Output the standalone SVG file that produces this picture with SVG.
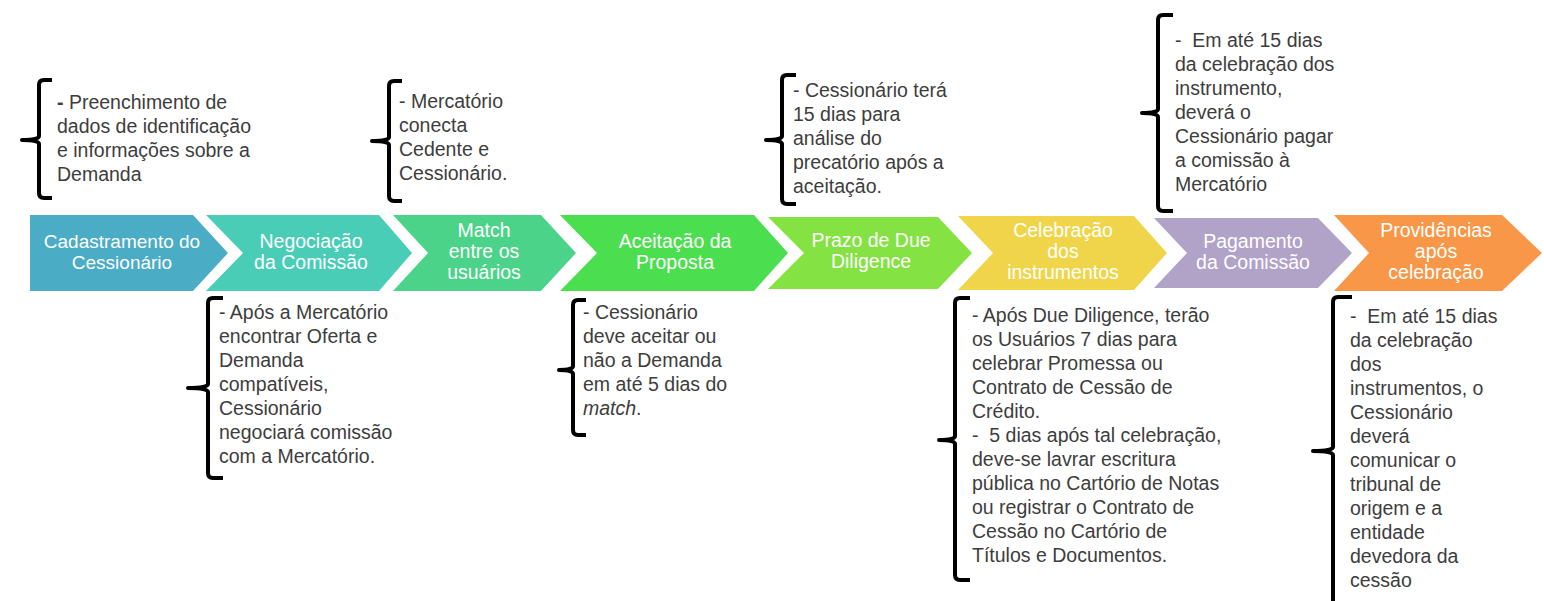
<svg xmlns="http://www.w3.org/2000/svg" width="1544" height="601" viewBox="0 0 1544 601">
<style>
.bg{fill:#ffffff}
.chev{stroke:none}
.ct{font-family:"Liberation Sans",Arial,sans-serif;font-size:19.5px;fill:#ffffff;text-anchor:middle}
.ct1{font-size:19px}
.bt{font-family:"Liberation Sans",Arial,sans-serif;font-size:19.5px;fill:#3d3d3d}
.br{fill:none;stroke:#000000;stroke-width:4;stroke-linejoin:round;stroke-linecap:butt}
</style>
<rect class="bg" x="0" y="0" width="1544" height="601"/>
<g id="connectors">
<path class="br" d="M52,80 H44 Q39,80 39,85 V136 Q39,140 22,140 Q39,140 39,144 V193 Q39,198 44,198 H52"/>
<path class="br" d="M402,81 H394 Q389,81 389,86 V137 Q389,141 372,141 Q389,141 389,145 V196 Q389,201 394,201 H402"/>
<path class="br" d="M223,298 H213 Q208,298 208,303 V384 Q208,388 188,388 Q208,388 208,392 V473 Q208,478 213,478 H223"/>
<path class="br" d="M586,300 H578 Q573,300 573,305 V366 Q573,370 559,370 Q573,370 573,374 V430 Q573,435 578,435 H586"/>
<path class="br" d="M796,75 H787 Q782,75 782,80 V136 Q782,140 766,140 Q782,140 782,144 V199 Q782,204 787,204 H796"/>
<path class="br" d="M1173,15 H1163 Q1158,15 1158,20 V109 Q1158,113 1142,113 Q1158,113 1158,117 V206 Q1158,211 1163,211 H1173"/>
<path class="br" d="M970,298 H960 Q955,298 955,303 V436 Q955,440 939,440 Q955,440 955,444 V575 Q955,580 960,580 H970"/>
<path class="br" d="M1352,297 H1338 Q1333,297 1333,302 V447 Q1333,451 1313,451 Q1333,451 1333,455 V612"/>
</g>
<g id="step1">
<path class="chev" fill="#4BACC6" d="M30,215 H193 L228,253 L193,291 H30 Z"/>
<text class="ct ct1" x="122" y="248">Cadastramento do</text>
<text class="ct ct1" x="122" y="269">Cessionário</text>
</g>
<g id="step2">
<path class="chev" fill="#4ACDB6" d="M206,215 H379 L412,253 L379,291 H206 L243,253 Z"/>
<text class="ct" x="311" y="248">Negociação</text>
<text class="ct" x="311" y="269">da Comissão</text>
</g>
<g id="step3">
<path class="chev" fill="#4BD489" d="M393,215 H541 L576,253 L541,291 H393 L428,253 Z"/>
<text class="ct" x="484" y="237">Match</text>
<text class="ct" x="484" y="258">entre os</text>
<text class="ct" x="484" y="279">usuários</text>
</g>
<g id="step4">
<path class="chev" fill="#4BDE4F" d="M560,215 H754 L788,253 L754,291 H560 L597,253 Z"/>
<text class="ct" x="675" y="248">Aceitação da</text>
<text class="ct" x="675" y="269">Proposta</text>
</g>
<g id="step5">
<path class="chev" fill="#84E243" d="M768,217 H938 L972,253 L938,289 H768 L804,253 Z"/>
<text class="ct" x="871" y="247">Prazo de Due</text>
<text class="ct" x="871" y="268">Diligence</text>
</g>
<g id="step6">
<path class="chev" fill="#F0D54A" d="M958,216 H1134 L1167,253 L1134,290 H958 L993,253 Z"/>
<text class="ct" x="1063" y="237">Celebração</text>
<text class="ct" x="1063" y="258">dos</text>
<text class="ct" x="1063" y="279">instrumentos</text>
</g>
<g id="step7">
<path class="chev" fill="#B1A2C8" d="M1154,218 H1318 L1352,253 L1318,288 H1154 L1187,253 Z"/>
<text class="ct" x="1253" y="248">Pagamento</text>
<text class="ct" x="1253" y="269">da Comissão</text>
</g>
<g id="step8">
<path class="chev" fill="#F79747" d="M1334,215 H1502 L1542,253 L1502,291 H1334 L1369,253 Z"/>
<text class="ct" x="1436" y="237">Providências</text>
<text class="ct" x="1436" y="258">após</text>
<text class="ct" x="1436" y="279">celebração</text>
</g>
<g id="note1">
<text class="bt" x="57" y="109"><tspan font-weight="bold">-</tspan> Preenchimento de</text>
<text class="bt" x="57" y="133">dados de identificação</text>
<text class="bt" x="57" y="157">e informações sobre a</text>
<text class="bt" x="57" y="181">Demanda</text>
</g>
<g id="note2">
<text class="bt" x="399" y="108">- Mercatório</text>
<text class="bt" x="399" y="132">conecta</text>
<text class="bt" x="399" y="156">Cedente e</text>
<text class="bt" x="399" y="180">Cessionário.</text>
</g>
<g id="note3">
<text class="bt" x="219" y="319">- Após a Mercatório</text>
<text class="bt" x="219" y="343">encontrar Oferta e</text>
<text class="bt" x="219" y="367">Demanda</text>
<text class="bt" x="219" y="391">compatíveis,</text>
<text class="bt" x="219" y="415">Cessionário</text>
<text class="bt" x="219" y="439">negociará comissão</text>
<text class="bt" x="219" y="463">com a Mercatório.</text>
</g>
<g id="note4">
<text class="bt" x="583" y="319">- Cessionário</text>
<text class="bt" x="583" y="343">deve aceitar ou</text>
<text class="bt" x="583" y="367">não a Demanda</text>
<text class="bt" x="583" y="391">em até 5 dias do</text>
<text class="bt" x="583" y="415"><tspan font-style="italic">match</tspan>.</text>
</g>
<g id="note5">
<text class="bt" x="793" y="97">- Cessionário terá</text>
<text class="bt" x="793" y="121">15 dias para</text>
<text class="bt" x="793" y="145">análise do</text>
<text class="bt" x="793" y="169">precatório após a</text>
<text class="bt" x="793" y="193">aceitação.</text>
</g>
<g id="note6">
<text class="bt" x="1175" y="47">-&#160; Em até 15 dias</text>
<text class="bt" x="1175" y="71">da celebração dos</text>
<text class="bt" x="1175" y="95">instrumento,</text>
<text class="bt" x="1175" y="119">deverá o</text>
<text class="bt" x="1175" y="143">Cessionário pagar</text>
<text class="bt" x="1175" y="167">a comissão à</text>
<text class="bt" x="1175" y="191">Mercatório</text>
</g>
<g id="note7">
<text class="bt" x="972" y="322">- Após Due Diligence, terão</text>
<text class="bt" x="972" y="346">os Usuários 7 dias para</text>
<text class="bt" x="972" y="370">celebrar Promessa ou</text>
<text class="bt" x="972" y="394">Contrato de Cessão de</text>
<text class="bt" x="972" y="418">Crédito.</text>
<text class="bt" x="972" y="442">-&#160; 5 dias após tal celebração,</text>
<text class="bt" x="972" y="466">deve-se lavrar escritura</text>
<text class="bt" x="972" y="490">pública no Cartório de Notas</text>
<text class="bt" x="972" y="514">ou registrar o Contrato de</text>
<text class="bt" x="972" y="538">Cessão no Cartório de</text>
<text class="bt" x="972" y="562">Títulos e Documentos.</text>
</g>
<g id="note8">
<text class="bt" x="1350" y="323">-&#160; Em até 15 dias</text>
<text class="bt" x="1350" y="347">da celebração</text>
<text class="bt" x="1350" y="371">dos</text>
<text class="bt" x="1350" y="395">instrumentos, o</text>
<text class="bt" x="1350" y="419">Cessionário</text>
<text class="bt" x="1350" y="443">deverá</text>
<text class="bt" x="1350" y="467">comunicar o</text>
<text class="bt" x="1350" y="491">tribunal de</text>
<text class="bt" x="1350" y="515">origem e a</text>
<text class="bt" x="1350" y="539">entidade</text>
<text class="bt" x="1350" y="563">devedora da</text>
<text class="bt" x="1350" y="587">cessão</text>
</g>
</svg>
